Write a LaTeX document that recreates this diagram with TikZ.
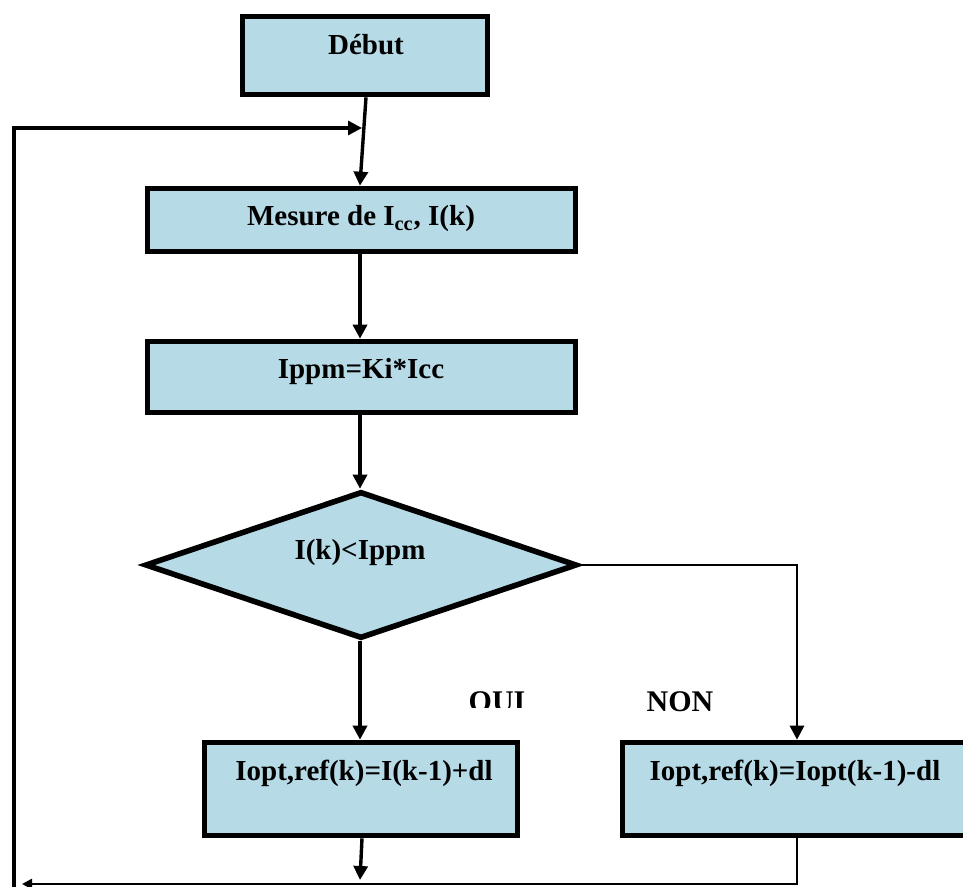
\documentclass[tikz,border=0pt]{standalone}
\usepackage{fontspec}
\setmainfont{Liberation Serif}
\usetikzlibrary{arrows.meta,shapes.geometric}
\definecolor{boxfill}{RGB}{182,219,231}
\tikzset{
  box/.style={draw=black, fill=boxfill, line width=2.8pt, inner sep=0pt},
  decision/.style={diamond, draw=black, fill=boxfill, line width=2.8pt, inner sep=0pt, aspect=2.95},
  txt/.style={font=\fontsize{14.5}{16}\selectfont\bfseries, inner sep=0pt},
  flow/.style={line width=1.7pt, -{Triangle[length=7pt,width=7pt]}},
  loop/.style={line width=1.6pt},
  thinloop/.style={line width=1.3pt}
}
\begin{document}
\begin{tikzpicture}[x=0.5pt,y=-0.5pt]
\useasboundingbox (0,0) rectangle (963,887);
\clip (0,0) rectangle (963,887);

% process boxes
\node[box, minimum width=122.5pt, minimum height=39pt] (debut) at (365,55.5) {};
\node[txt] (debutT) at (366,45) {Début};

\node[box, minimum width=214pt, minimum height=31.5pt] (mesure) at (361.5,220) {};
\node[txt] (mesureT) at (361,219) {Mesure de I\textsubscript{cc}, I(k)};

\node[box, minimum width=214pt, minimum height=35.5pt] (ippm) at (361.5,377) {};
\node[txt] (ippmT) at (361,372) {Ippm=Ki*Icc};

% decision
\node[decision, minimum width=216pt, minimum height=73.5pt] (test) at (361,565) {};
\node[txt] (testT) at (360,553) {I(k)<Ippm};

% branch results
\node[box, minimum width=156.5pt, minimum height=46.5pt] (oui) at (361,789) {};
\node[txt] (ouiT) at (364,773) {Iopt,ref(k)=I(k-1)+dl};

\node[box, minimum width=174.5pt, minimum height=46.5pt] (non) at (797,789) {};
\node[txt] (nonT) at (795,773) {Iopt,ref(k)=Iopt(k-1)-dl};

% branch labels (OUI is cut at its foot)
\begin{scope}
  \clip (440,670) rectangle (560,707);
  \node[txt, font=\fontsize{15}{17}\selectfont\bfseries, anchor=base] (ouiL) at (497,711) {OUI};
\end{scope}
\node[txt, font=\fontsize{15}{17}\selectfont\bfseries, anchor=base] (nonL) at (680,711) {NON};

% main flow
\coordinate (join) at (362,128);
\draw[flow] ([xshift=0.5pt]debut.south) -- ([xshift=-0.8pt]mesure.north);
\draw[flow] (mesure.south -| 360,0) -- (ippm.north -| 360,0);
\draw[flow] (ippm.south -| 360,0) -- (test.north -| 360,0);
\draw[flow] (test.south -| 360,0) -- (oui.north -| 360,0);
\draw[line width=1.4pt, -{Triangle[length=7pt,width=7pt]}] (test.east) -| (non.north);

% return paths
\coordinate (bl) at (14,887);
\coordinate (tl) at (14,128);
\coordinate (br) at (797,884);
\coordinate (bend) at (22,884);
\draw[flow] ([xshift=0.5pt]oui.south) -- (360,880);
\draw[thinloop, -{Triangle[length=5pt,width=5pt]}] (non.south) -- (br) -- (bend);
\draw[loop, -{Triangle[length=7pt,width=7pt]}] (bl) -- (tl) -- (join);
\end{tikzpicture}
\end{document}
